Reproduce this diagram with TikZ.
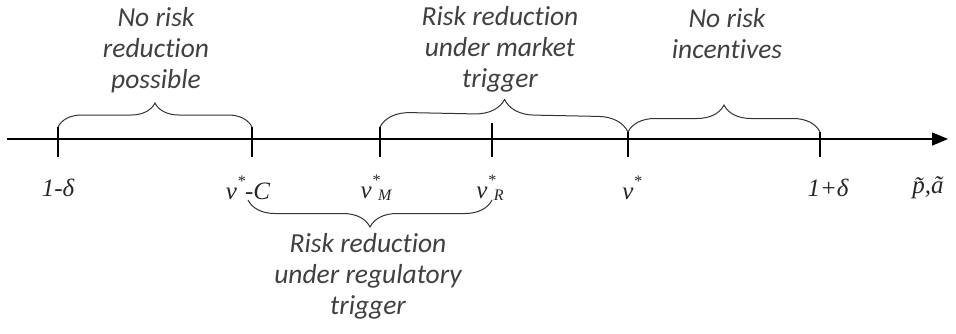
\documentclass[tikz,border=0pt]{standalone}
\usepackage{fontspec}
\setmainfont[Ligatures={NoCommon,NoRequired},Contextuals=NoAlternate]{Carlito}
\newfontfamily\labfont{Liberation Serif}
\usetikzlibrary{decorations.pathreplacing,arrows.meta}
\newcommand{\supst}{\raisebox{0.5em}{\fontsize{16}{16}\selectfont *}}
\newcommand{\vsub}[1]{v\makebox[0pt][l]{\supst}\raisebox{-0.1em}{\kern0.25em\fontsize{16}{16}\selectfont #1}}
\newcommand{\nolig}{\kern0pt}
\begin{document}
\begin{tikzpicture}[x=1pt,y=-1pt,
  txt/.style={font=\fontsize{27.5}{31}\selectfont\itshape, text=black!75, align=center},
  lab/.style={font=\fontsize{25}{28}\labfont\itshape, text=black!85},
  brc/.style={decorate, decoration={brace, amplitude=#1}, line width=1pt, black!80},
  tck/.style={line width=1.2pt}]
\useasboundingbox (0,0) rectangle (956,333);
\coordinate (L) at (7,139);
\coordinate (R) at (948,139);
\draw[line width=1.5pt, -{Triangle[length=16pt,width=13pt]}] (L) -- (R);
\foreach \n/\x/\y in {a/58/127,b/252/127,c/380/127,d/492/123,e/628/132,f/820/132}{
  \coordinate (\n-t) at (\x,\y);
  \coordinate (\n-b) at (\x,157);
  \draw[tck] (\n-t) -- (\n-b);
}
% upper braces
\draw[brc=24pt] (a-t) -- (b-t);
\draw[brc=30pt] (c-t) -- (e-t);
\draw[brc=27pt] (e-t) -- (f-t);
% lower brace
\coordinate (lbr) at (492,200);
\coordinate (lbl) at (248,200);
\draw[brc=27pt] (lbr) -- (lbl);
% labels under axis
\node[lab] (la) at (58,188) {1-δ};
\node[lab] (lb) at (248,188) {v\supst-C};
\node[lab] (lc) at (376,188) {\vsub{M}};
\node[lab] (ld) at (490,188) {\vsub{R}};
\node[lab] (le) at (632,188) {v\supst};
\node[lab] (lf) at (828,188) {1+δ};
\node[lab] (lg) at (928,188) {\~p,\~a};
% text
\node[txt] (t1) at (156,50) {No risk\\reduct\nolig ion\\possible};
\node[txt] (t2) at (500,49) {Risk reduct\nolig ion\\under market\\trigger};
\node[txt] (t3) at (727,34) {No risk\\incent\nolig ives};
\node[txt] (t4) at (368,276) {Risk reduct\nolig ion\\under regulatory\\trigger};
\end{tikzpicture}
\end{document}
